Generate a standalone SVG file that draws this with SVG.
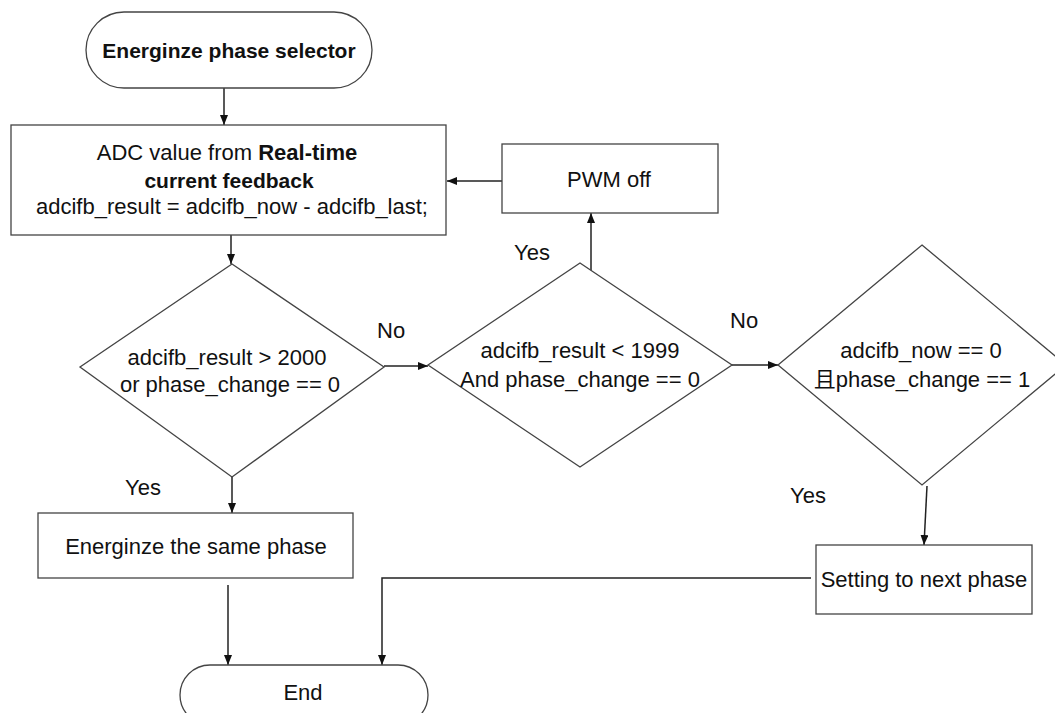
<svg xmlns="http://www.w3.org/2000/svg" width="1055" height="713" viewBox="0 0 1055 713">
<defs>
<marker id="ah" markerUnits="userSpaceOnUse" markerWidth="10" markerHeight="8" refX="10" refY="4" orient="auto">
<path d="M0,0 L10,4 L0,8 z" fill="#111"/>
</marker>
<style>
.shape{fill:#fff;stroke:#444;stroke-width:1.3}
.conn{fill:none;stroke:#222;stroke-width:1.5}
.t{font-family:"Liberation Sans",Arial,sans-serif;font-size:22px;fill:#111}
.c{text-anchor:middle}
.b{font-weight:bold;font-size:21px}
</style>
</defs>
<rect width="1055" height="713" fill="#fff"/>
<g id="connectors">
<line class="conn" x1="224" y1="88" x2="224" y2="125" marker-end="url(#ah)"/>
<line class="conn" x1="502" y1="181" x2="447" y2="181" marker-end="url(#ah)"/>
<line class="conn" x1="231" y1="235" x2="231" y2="264" marker-end="url(#ah)"/>
<line class="conn" x1="384" y1="366" x2="428" y2="366" marker-end="url(#ah)"/>
<line class="conn" x1="591" y1="271" x2="591" y2="213" marker-end="url(#ah)"/>
<line class="conn" x1="732" y1="365" x2="778" y2="365" marker-end="url(#ah)"/>
<line class="conn" x1="232" y1="477" x2="232" y2="513" marker-end="url(#ah)"/>
<line class="conn" x1="927" y1="486" x2="924" y2="545" marker-end="url(#ah)"/>
<line class="conn" x1="228" y1="585" x2="228" y2="665" marker-end="url(#ah)"/>
<polyline class="conn" points="811,578 382,578 382,665" marker-end="url(#ah)"/>
<text class="t" x="377" y="338">No</text>
<text class="t" x="125" y="495">Yes</text>
<text class="t" x="514" y="260">Yes</text>
<text class="t" x="730" y="328">No</text>
<text class="t" x="790" y="503">Yes</text>
</g>
<g id="start">
<rect class="shape" x="86" y="12" width="286" height="76" rx="38" ry="38"/>
<text class="t c b" x="229" y="58">Energinze phase selector</text>
</g>
<g id="adc">
<rect class="shape" x="11" y="125" width="435" height="110"/>
<text class="t c" x="227" y="160">ADC value from <tspan font-weight="bold">Real-time</tspan></text>
<text class="t c b" x="229" y="188">current feedback</text>
<text class="t c" x="232" y="214">adcifb_result = adcifb_now - adcifb_last;</text>
</g>
<g id="pwm">
<rect class="shape" x="502" y="144" width="216" height="69"/>
<text class="t c" x="609" y="187">PWM off</text>
</g>
<g id="d1">
<polygon class="shape" points="232,264 384,367 232,477 80,367"/>
<text class="t c" x="227" y="365">adcifb_result &gt; 2000</text>
<text class="t c" x="230" y="392">or phase_change == 0</text>
</g>
<g id="d2">
<polygon class="shape" points="580,263 732,365 580,467 428,365"/>
<text class="t c" x="580" y="358">adcifb_result &lt; 1999</text>
<text class="t c" x="580" y="387">And phase_change == 0</text>
</g>
<g id="d3">
<polygon class="shape" points="922,245 1066,365 922,485 778,365"/>
<text class="t c" x="921" y="358">adcifb_now == 0</text>
<text class="t c" x="922" y="387"><tspan font-family="'Noto Sans CJK SC',sans-serif">且</tspan>phase_change == 1</text>
</g>
<g id="same">
<rect class="shape" x="38" y="513" width="315" height="65"/>
<text class="t c" x="196" y="554">Energinze the same phase</text>
</g>
<g id="next">
<rect class="shape" x="816" y="545" width="216" height="69"/>
<text class="t c" x="924" y="587">Setting to next phase</text>
</g>
<g id="end">
<rect class="shape" x="180" y="665" width="248" height="60" rx="30" ry="30"/>
<text class="t c" x="303" y="700">End</text>
</g>
</svg>
